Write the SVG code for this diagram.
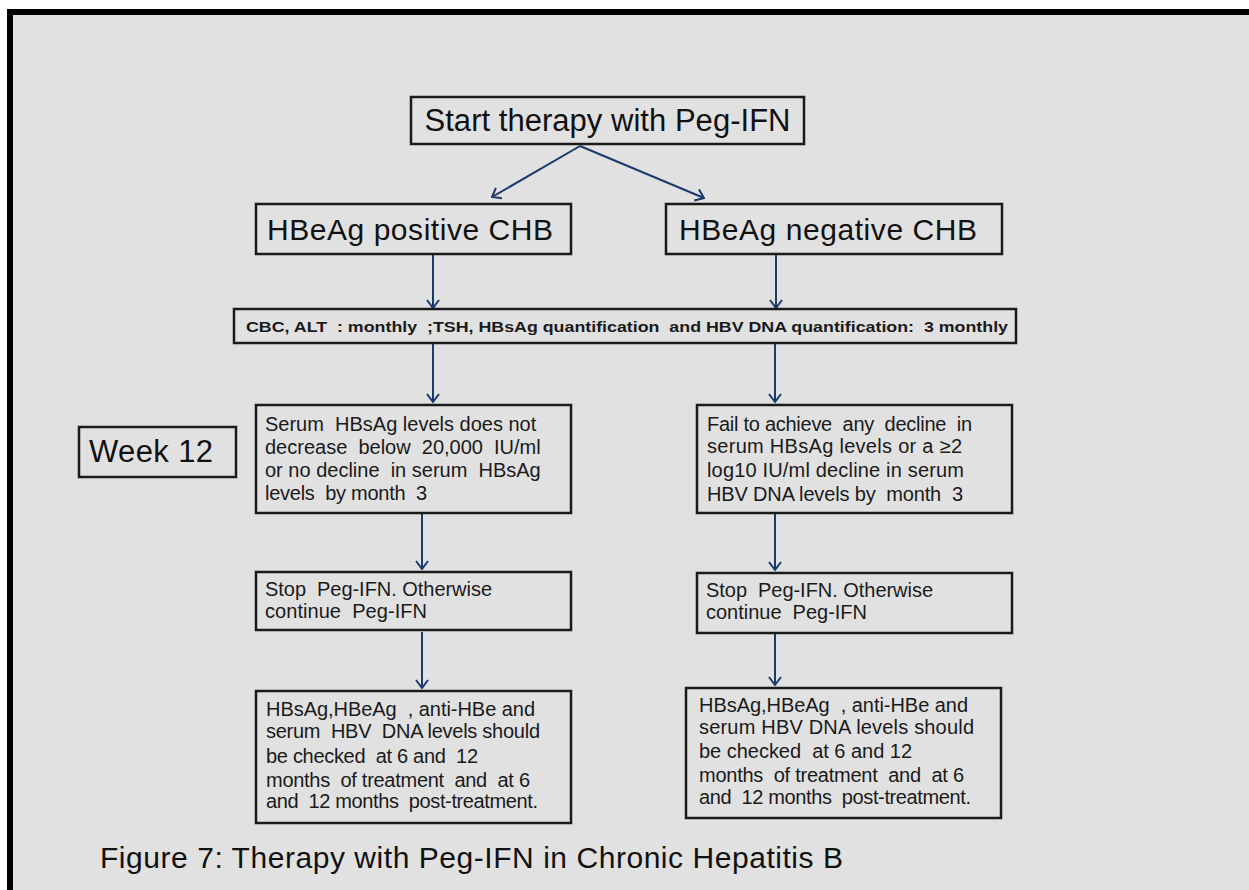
<svg xmlns="http://www.w3.org/2000/svg" width="1249" height="890" viewBox="0 0 1249 890">
<defs>
<style>
.box{fill:none;stroke:#1a1a1a;stroke-width:2.5}
.big{font-family:"Liberation Sans",Arial,sans-serif;fill:#111}
.body{font-family:"Liberation Sans",Arial,sans-serif;font-size:20px;fill:#1a1a1a;white-space:pre}
.bold{font-family:"Liberation Sans",Arial,sans-serif;font-size:14.5px;font-weight:bold;fill:#1a1a1a;white-space:pre}
.arr{stroke:#1c3a6e;stroke-width:2;fill:none;marker-end:url(#ah)}
</style>
<marker id="ah" viewBox="0 0 10 14" refX="9" refY="7" markerWidth="10" markerHeight="14" markerUnits="userSpaceOnUse" orient="auto">
<path d="M1,1 L9,7 L1,13" fill="none" stroke="#1c3a6e" stroke-width="2"/>
</marker>
</defs>
<rect x="0" y="0" width="1249" height="890" fill="#ffffff"/>
<rect x="7" y="9" width="1242" height="881" fill="#000000"/>
<rect x="13" y="15" width="1236" height="875" fill="#e1e1e1"/>

<g id="connectors">
<line class="arr" x1="580" y1="146" x2="492" y2="197"/>
<line class="arr" x1="580" y1="146" x2="704" y2="198"/>
<line class="arr" x1="433" y1="254" x2="433" y2="308"/>
<line class="arr" x1="776" y1="254" x2="776" y2="308"/>
<line class="arr" x1="433" y1="343" x2="433" y2="402"/>
<line class="arr" x1="775" y1="343" x2="775" y2="402"/>
<line class="arr" x1="422" y1="513" x2="422" y2="569"/>
<line class="arr" x1="775" y1="513" x2="775" y2="570"/>
<line class="arr" x1="422" y1="632" x2="422" y2="688"/>
<line class="arr" x1="775" y1="633" x2="775" y2="685"/>
</g>

<g id="start">
<rect class="box" x="411" y="97" width="393" height="47"/>
<text class="big" x="607.5" y="131" font-size="31" text-anchor="middle" textLength="366">Start therapy with Peg-IFN</text>
</g>

<g id="hbeag-pos">
<rect class="box" x="256" y="204" width="315" height="50"/>
<text class="big" x="267" y="240" font-size="30" textLength="286">HBeAg positive CHB</text>
</g>

<g id="hbeag-neg">
<rect class="box" x="666" y="204" width="336" height="50"/>
<text class="big" x="679" y="240" font-size="30" textLength="298">HBeAg negative CHB</text>
</g>

<g id="monitoring">
<rect class="box" x="234" y="309" width="782" height="34"/>
<text class="bold" x="246" y="332" textLength="762" lengthAdjust="spacingAndGlyphs">CBC, ALT  : monthly  ;TSH, HBsAg quantification  and HBV DNA quantification:  3 monthly</text>
</g>

<g id="week12">
<rect class="box" x="79" y="427" width="157" height="50"/>
<text class="big" x="89" y="462" font-size="31" textLength="124">Week 12</text>
</g>

<g id="crit-left">
<rect class="box" x="256" y="405" width="315" height="108"/>
<text class="body" x="265" y="431">Serum  HBsAg levels does not</text>
<text class="body" x="265" y="454">decrease  below  20,000  IU/ml</text>
<text class="body" x="265" y="477">or no decline  in serum  HBsAg</text>
<text class="body" x="265" y="500" textLength="162">levels  by month  3</text>
</g>

<g id="crit-right">
<rect class="box" x="697" y="405" width="315" height="108"/>
<text class="body" x="707" y="431" textLength="265">Fail to achieve  any  decline  in</text>
<text class="body" x="707" y="453" textLength="255">serum HBsAg levels or a ≥2</text>
<text class="body" x="707" y="477" textLength="257">log10 IU/ml decline in serum</text>
<text class="body" x="707" y="501" textLength="256">HBV DNA levels by  month  3</text>
</g>

<g id="stop-left">
<rect class="box" x="256" y="572" width="315" height="58"/>
<text class="body" x="265" y="596" textLength="227">Stop  Peg-IFN. Otherwise</text>
<text class="body" x="265" y="618" textLength="162">continue  Peg-IFN</text>
</g>

<g id="stop-right">
<rect class="box" x="697" y="573" width="315" height="60"/>
<text class="body" x="706" y="597" textLength="227">Stop  Peg-IFN. Otherwise</text>
<text class="body" x="706" y="619" textLength="161">continue  Peg-IFN</text>
</g>

<g id="check-left">
<rect class="box" x="256" y="691" width="315" height="132"/>
<text class="body" x="266" y="716" textLength="269">HBsAg,HBeAg  , anti-HBe and</text>
<text class="body" x="266" y="738" textLength="274">serum  HBV  DNA levels should</text>
<text class="body" x="266" y="763" textLength="212">be checked  at 6 and  12</text>
<text class="body" x="266" y="787" textLength="264">months  of treatment  and  at 6</text>
<text class="body" x="266" y="808" textLength="272">and  12 months  post-treatment.</text>
</g>

<g id="check-right">
<rect class="box" x="686" y="688" width="315" height="130"/>
<text class="body" x="699" y="712" textLength="269">HBsAg,HBeAg  , anti-HBe and</text>
<text class="body" x="699" y="734" textLength="275">serum HBV DNA levels should</text>
<text class="body" x="699" y="758" textLength="213">be checked  at 6 and 12</text>
<text class="body" x="699" y="782" textLength="265">months  of treatment  and  at 6</text>
<text class="body" x="699" y="804" textLength="272">and  12 months  post-treatment.</text>
</g>

<g id="caption">
<text class="big" x="100" y="868" font-size="30" textLength="743">Figure 7: Therapy with Peg-IFN in Chronic Hepatitis B</text>
</g>
</svg>
